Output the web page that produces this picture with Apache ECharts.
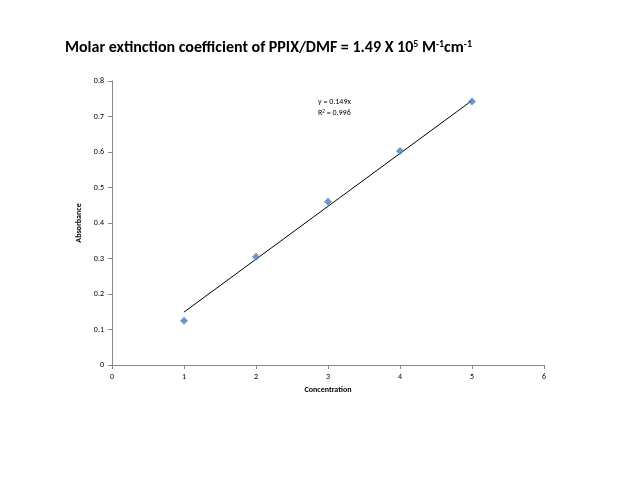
<!DOCTYPE html>
<html><head><meta charset="utf-8">
<script src="https://cdn.jsdelivr.net/npm/echarts@6/dist/echarts.min.js"></script>
<style>html,body{margin:0;background:#fff}#c{width:638px;height:479px}</style>
</head><body><div id="c"></div>
<script>
const concentration = [1, 2, 3, 4, 5];
const absorbance = [0.125, 0.305, 0.46, 0.603, 0.742];
const slope = 0.149;
const trendX = [1, 5];
const xTicks = [0, 1, 2, 3, 4, 5, 6];
const yTicks = [0, 0.1, 0.2, 0.3, 0.4, 0.5, 0.6, 0.7, 0.8];

const font = 'Carlito, "Liberation Sans", sans-serif';
const chart = echarts.init(document.getElementById('c'));
chart.setOption({
  animation: false,
  title: {
    text: '{m|Molar extinction coefficient of PPIX/DMF = 1.49 X 10}{s|5}{m| M}{s|-1}{m|cm}{s|-1}',
    left: 60, top: 34,
    textStyle: { rich: {
      m: { fontSize: 16, fontFamily: font, color: '#000' },
      s: { fontSize: 10, fontFamily: font, color: '#000', verticalAlign: 'top', padding: [0, 0, 8, 0] }
    } }
  },
  grid: { left: 112, right: 94, top: 81, bottom: 114 },
  xAxis: {
    type: 'value', min: 0, max: 6, interval: 1,
    name: 'Concentration', nameLocation: 'middle', nameGap: 18,
    nameTextStyle: { fontSize: 8, fontWeight: 'bold', fontFamily: font, color: '#000' },
    axisLine: { lineStyle: { color: '#888' } },
    axisTick: { show: true, inside: false, length: 4, lineStyle: { color: '#888' } },
    axisLabel: { fontSize: 8, fontFamily: font, color: '#000', formatter: v => xTicks.includes(v) ? String(v) : '' },
    splitLine: { show: false }
  },
  yAxis: {
    type: 'value', min: 0, max: 0.8, interval: 0.1,
    name: 'Absorbance', nameLocation: 'middle', nameGap: 20,
    nameTextStyle: { fontSize: 8, fontWeight: 'bold', fontFamily: font, color: '#000' },
    axisLine: { show: true, lineStyle: { color: '#888' } },
    axisTick: { show: true, length: 4, lineStyle: { color: '#888' } },
    axisLabel: { fontSize: 8, fontFamily: font, color: '#000', formatter: v => {
      const t = yTicks.find(y => Math.abs(y - v) < 1e-6); return t === undefined ? '' : String(+t.toFixed(1)); } },
    splitLine: { show: false }
  },
  series: [
    { type: 'line', data: trendX.map(x => [x, slope * x]), symbol: 'none',
      lineStyle: { color: '#000', width: 1 }, z: 1 },
    { type: 'scatter', data: concentration.map((x, i) => [x, absorbance[i]]),
      symbol: 'diamond', symbolSize: 8, itemStyle: { color: '#4a7ebb' }, z: 2 }
  ],
  graphic: [
    { type: 'text', left: 318, top: 98, style: { text: 'y = 0.149x', fontSize: 8, fontFamily: font, fill: '#000' } },
    { type: 'text', left: 318, top: 109, style: { rich: { a: { fontSize: 8, fontFamily: font }, s: { fontSize: 5, fontFamily: font, verticalAlign: 'top' } },
      text: '{a|R}{s|2}{a| = 0.996}', fill: '#000' } }
  ]
});
</script></body></html>
